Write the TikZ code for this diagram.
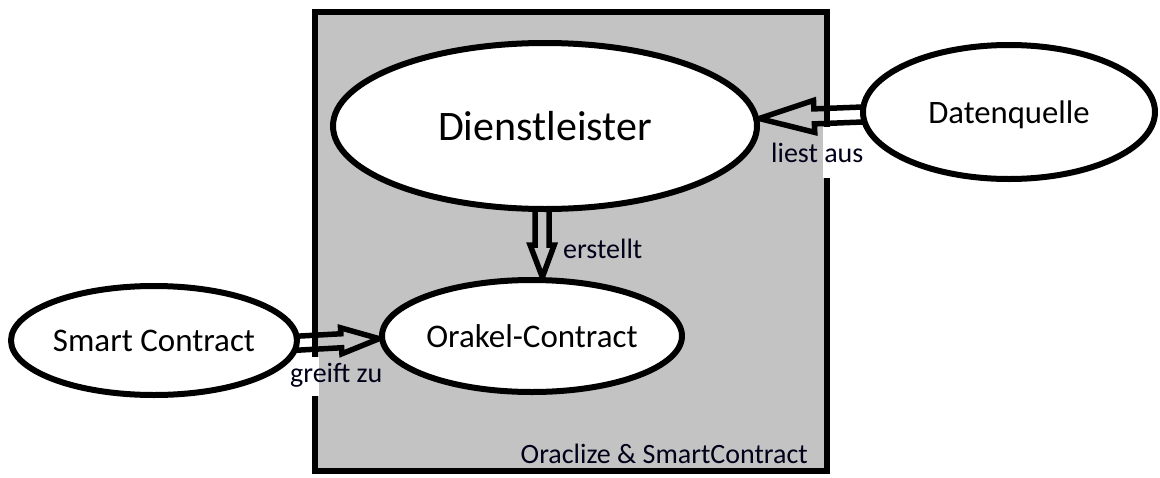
\documentclass[tikz,border=0pt]{standalone}
\usepackage{fontspec}
\setmainfont{Carlito}
\usetikzlibrary{shapes.geometric,calc}
\pgfdeclarelayer{bg}\pgfdeclarelayer{mid}\pgfsetlayers{bg,mid,main}
\definecolor{boxgrey}{HTML}{C3C3C3}
\tikzset{
  ell/.style={ellipse, draw=black, line width=6pt, fill=white, inner sep=0pt, text depth=0pt},
  lbl/.style={inner sep=0pt, font=\fontsize{28}{32}\selectfont, text=black!90!blue},
  arrowline/.style={draw=black, line width=5.5pt, line join=miter, miter limit=20}
}
\newcommand{\hollowarrow}[5]{%
  \coordinate (hsA) at (#1);
  \coordinate (ht) at (#2);
  \coordinate (hs) at ($(hsA)!-6pt!(ht)$);
  \coordinate (hb) at ($(ht)!#5!(hs)$);
  \draw[arrowline] ($(hs)!#3!90:(ht)$) -- ($(hb)!#3!90:(ht)$) -- ($(hb)!#4!90:(ht)$) -- (ht) -- ($(hb)!#4!-90:(ht)$) -- ($(hb)!#3!-90:(ht)$) -- ($(hs)!#3!-90:(ht)$);
}
\begin{document}
\begin{tikzpicture}[x=1pt,y=-1pt]
\useasboundingbox (0,0) rectangle (1160,477);
\begin{pgfonlayer}{bg}
  \draw[line width=6pt, fill=boxgrey] (315,11.5) rectangle (827,471);
\end{pgfonlayer}
\node[ell, minimum width=424pt, minimum height=166pt, font=\fontsize{42}{48}\selectfont] (dl) at (545,126) {Dienstleister};
\node[ell, minimum width=292pt, minimum height=134pt, font=\fontsize{32.7}{38}\selectfont] (dq) at (1009,112) {Datenquelle};
\node[ell, minimum width=300pt, minimum height=112pt, font=\fontsize{33}{38}\selectfont] (ok) at (532,336) {Orakel-Contract};
\node[ell, minimum width=286pt, minimum height=109pt, font=\fontsize{33}{38}\selectfont] (sc) at (154,340.5) {Smart Contract};
\begin{pgfonlayer}{mid}
  \hollowarrow{dq.181.5}{dl.2.7}{7.5pt}{16pt}{55pt}
  \hollowarrow{dl.-92}{ok.80}{7pt}{12pt}{32pt}
  \hollowarrow{sc.-1.5}{ok.181.5}{7pt}{13pt}{38pt}
\end{pgfonlayer}
\fill[white] (823,127) rectangle (831,178);
\fill[white] (310,357) rectangle (319,396);
\node[lbl, anchor=base west] (l1) at (771,162) {liest aus};
\node[lbl, anchor=base west] (l2) at (563,258) {erstellt};
\node[lbl, anchor=base west] (l3) at (290,382) {greift zu};
\node[lbl, anchor=base east] (l4) at (808,463) {Oraclize \& SmartContract};
\end{tikzpicture}
\end{document}
